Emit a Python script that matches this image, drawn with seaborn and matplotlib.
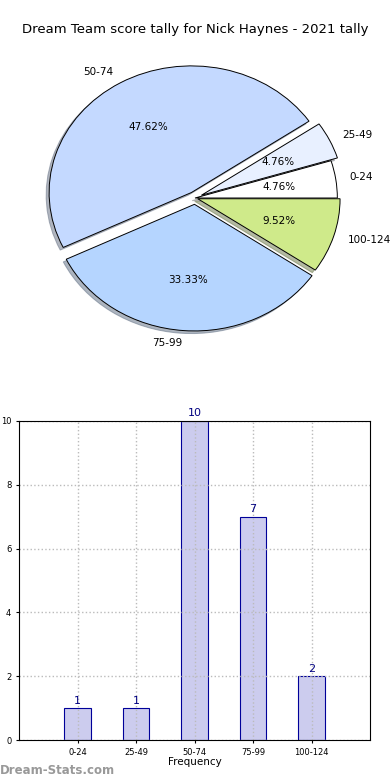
import matplotlib
matplotlib.use("Agg")
import matplotlib.pyplot as plt
import seaborn as sns
import pandas as pd

# data
categories = ["0-24", "25-49", "50-74", "75-99", "100-124"]
counts = [1, 1, 10, 7, 2]
pie_colors = ["#ffffff", "#e8f0ff", "#c4d9ff", "#b5d5ff", "#cfea8a"]
explode = [0.0, 0.05, 0.05, 0.05, 0.02]

df = pd.DataFrame({"range": categories, "count": counts})

fig = plt.figure(figsize=(3.9, 7.8), dpi=100)

# pie (slightly squashed vertically, like the original)
ax1 = fig.add_axes([0, 387 / 780, 1, 390 / 780])
ax1.pie(df["count"], labels=df["range"], colors=pie_colors, explode=explode,
        autopct="%.2f%%", startangle=0,
        shadow={"ox": -0.015, "oy": -0.015, "shade": 0.5},
        wedgeprops={"edgecolor": "black", "linewidth": 0.7},
        textprops={"fontsize": 7.5})
ax1.set_aspect("auto")
ax1.set_xlim(-1.37, 1.37)
ax1.set_ylim(-1.54, 1.54)
fig.text(0.5, 1 - 30 / 780, "Dream Team score tally for Nick Haynes - 2021 tally",
         ha="center", va="center", fontsize=9.5)

# bar chart
ax2 = fig.add_axes([19 / 390, 40 / 780, 351 / 390, 319 / 780])
sns.barplot(data=df, x="range", y="count", ax=ax2, width=0.45, color="#ccccee",
            saturation=1, edgecolor="#000099", linewidth=0.8)
for i, v in enumerate(counts):
    ax2.text(i, v + 0.08, str(v), ha="center", va="bottom", color="navy", fontsize=8)
ax2.set_xlim(-1, 5)
ax2.set_ylim(0, 10)
ax2.grid(True, linestyle=":", color="#bbbbbb", linewidth=1)
ax2.tick_params(labelsize=6, length=2)
ax2.set_xlabel("Frequency", fontsize=7.5, labelpad=0)
ax2.set_ylabel("Number of Weeks", fontsize=7.5, labelpad=10)

fig.text(0.0, 1 - 771 / 780, "Dream-Stats.com", color="#999999", fontsize=8.5,
         fontweight="bold", ha="left", va="center")

fig.savefig("out.png", dpi=100)
